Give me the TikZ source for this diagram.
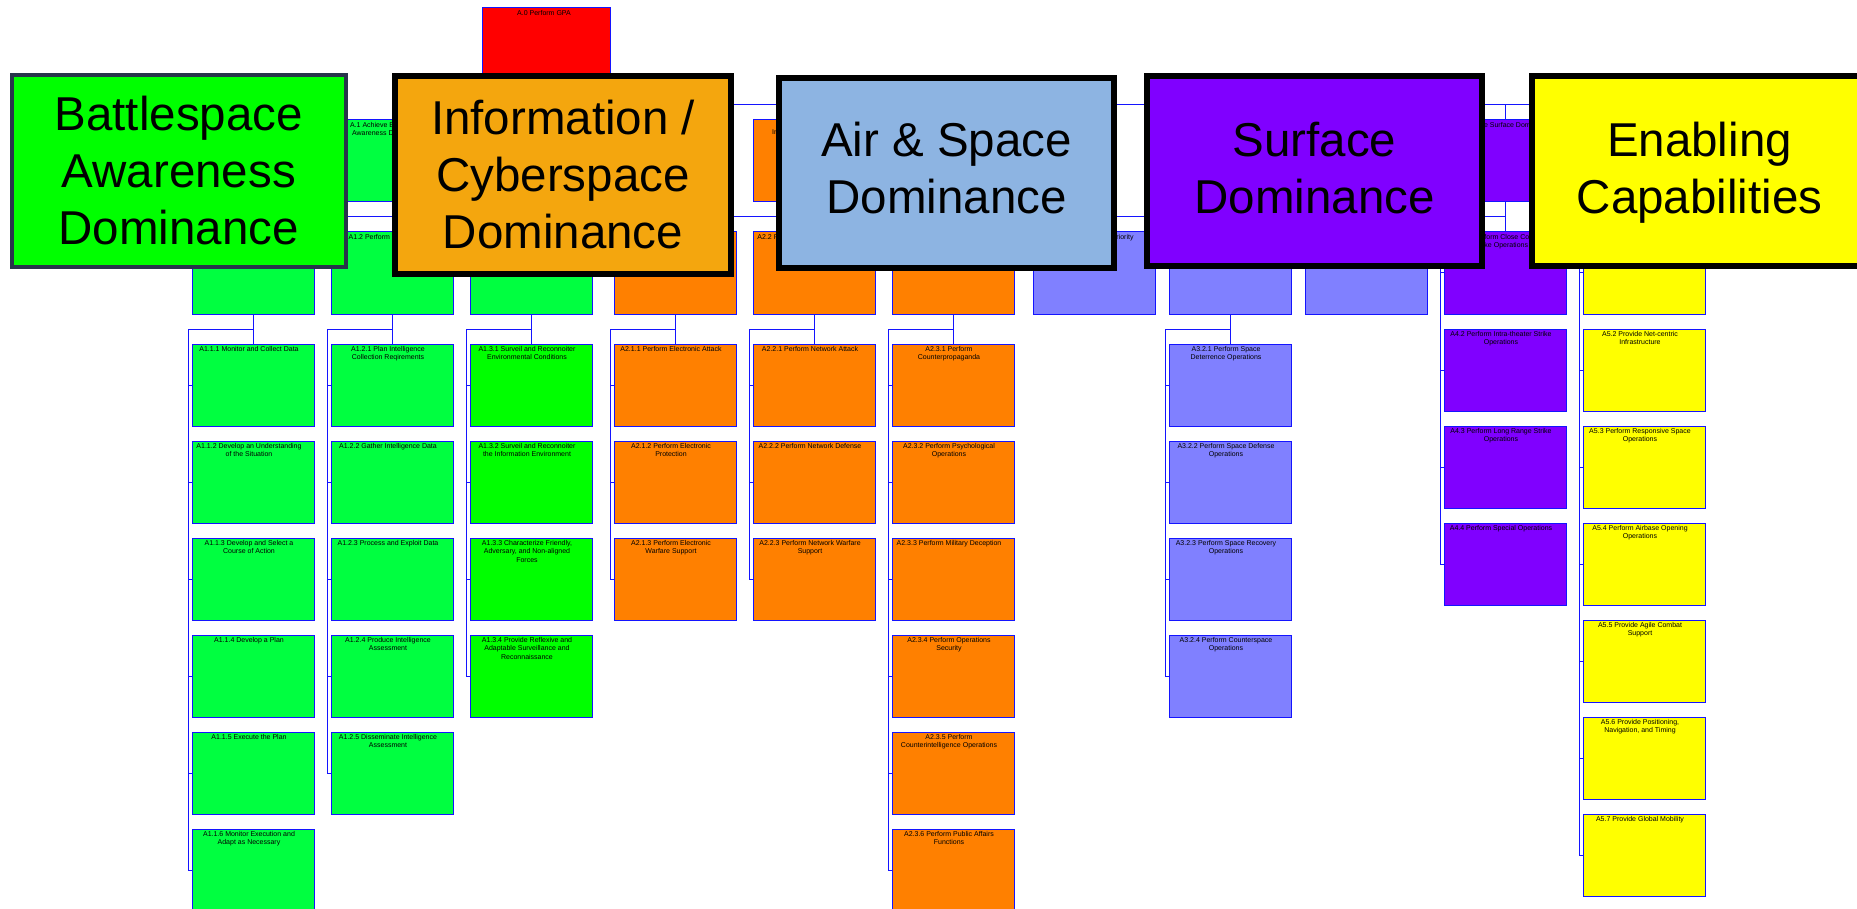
\documentclass[tikz,border=0pt]{standalone}
\usepackage{fontspec}
\setmainfont{Liberation Sans}
\definecolor{lnblue}{RGB}{20,20,255}
\definecolor{cGreen}{RGB}{0,255,64}
\definecolor{cGreenB}{RGB}{0,255,0}
\definecolor{cOrange}{RGB}{255,128,0}
\definecolor{cLav}{RGB}{128,128,255}
\definecolor{cPurple}{RGB}{128,0,255}
\definecolor{cYellow}{RGB}{255,255,0}
\definecolor{cRed}{RGB}{255,0,0}
\definecolor{bGreen}{RGB}{0,255,0}
\definecolor{bGreenEdge}{RGB}{40,52,75}
\definecolor{bOrange}{RGB}{244,166,14}
\definecolor{bBlue}{RGB}{141,180,226}
\tikzset{
  fbox/.style={draw=lnblue, line width=1pt, minimum width=122pt, minimum height=82pt, inner sep=0pt, outer sep=0pt, anchor=north west},
  ftxt/.style={anchor=north, inner sep=0pt, align=center, font=\fontsize{7}{8.5}\selectfont},
  conn/.style={draw=lnblue, line width=1pt},
  bigbox/.style={draw=black, line width=6pt, inner sep=0pt, minimum width=335pt, minimum height=190pt},
  bigtxt/.style={align=center, font=\fontsize{47.5}{57}\selectfont, text depth=0pt, inner sep=0pt},
}
\newcommand{\mkbox}[5]{\node[fbox, fill=#4] (#1) at (#2,#3) {};
  \node[ftxt] (#1t) at ([xshift=-4pt,yshift=-2pt]#1.north) {#5};}
\newcommand{\mkboxe}[4]{\node[fbox, fill=#4] (#1) at (#2,#3) {};}
\newcommand{\stubs}[1]{\foreach \c in {#1} \draw[conn] ([xshift=-3.5pt]\c.west) -- (\c.west);}
\begin{document}
\begin{tikzpicture}[x=1pt, y=-1pt]
\useasboundingbox (0,0) rectangle (1857,909);
\fill[white] (0,0) rectangle (1857,909);
\clip (0,0) rectangle (1857,909);

% level 0 and 1
\node[fbox, fill=cRed, minimum width=128pt] (A0) at (482,8) {};
\node[ftxt] (A0t) at ([xshift=-2pt,yshift=-2pt]A0.north) {A.0 Perform GPA};
\mkbox{A1}{331}{120}{cGreen}{A.1 Achieve Battlespace\\Awareness Dominance}
\node[fbox, fill=cOrange] (A2) at (753,120) {};
\node[anchor=west, inner sep=0pt, font=\fontsize{7}{8.5}\selectfont] (A2t) at ([xshift=19pt,yshift=-12.5pt]A2.north west) {Information};
\mkboxe{A3}{1169}{120}{cLav}
\mkbox{A4}{1444}{120}{cPurple}{A.4 Achieve Surface Dominance}
\mkboxe{A5}{1583}{120}{cYellow}

% level 2
\mkboxe{A11}{192}{232}{cGreen}
\mkbox{A12}{331}{232}{cGreen}{A1.2 Perform Intelligence}
\mkboxe{A13}{470}{232}{cGreen}
\mkboxe{A21}{614}{232}{cOrange}
\mkbox{A22}{753}{232}{cOrange}{A2.2 Perform Network Operations}
\mkboxe{A23}{892}{232}{cOrange}
\mkbox{A31}{1033}{232}{cLav}{A3.1 Achieve Air Superiority}
\mkboxe{A32}{1169}{232}{cLav}
\mkboxe{A33}{1305}{232}{cLav}

% A4 stack
\mkbox{A41}{1444}{232}{cPurple}{A4.1 Perform Close Combat\\Strike Operations}
\mkbox{A42}{1444}{329}{cPurple}{A4.2 Perform Intra-theater Strike\\Operations}
\mkbox{A43}{1444}{426}{cPurple}{A4.3 Perform Long Range Strike\\Operations}
\mkbox{A44}{1444}{523}{cPurple}{A4.4 Perform Special Operations}
% A5 stack
\mkboxe{A51}{1583}{232}{cYellow}
\mkbox{A52}{1583}{329}{cYellow}{A5.2 Provide Net-centric\\Infrastructure}
\mkbox{A53}{1583}{426}{cYellow}{A5.3 Perform Responsive Space\\Operations}
\mkbox{A54}{1583}{523}{cYellow}{A5.4 Perform Airbase Opening\\Operations}
\mkbox{A55}{1583}{620}{cYellow}{A5.5 Provide Agile Combat\\Support}
\mkbox{A56}{1583}{717}{cYellow}{A5.6 Provide Positioning,\\Navigation, and Timing}
\mkbox{A57}{1583}{814}{cYellow}{A5.7 Provide Global Mobility}

% level 3 col 1
\mkbox{A111}{192}{344}{cGreen}{A1.1.1 Monitor and Collect Data}
\mkbox{A112}{192}{441}{cGreen}{A1.1.2 Develop an Understanding\\of the Situation}
\mkbox{A113}{192}{538}{cGreen}{A1.1.3 Develop and Select a\\Course of Action}
\mkbox{A114}{192}{635}{cGreen}{A1.1.4 Develop a Plan}
\mkbox{A115}{192}{732}{cGreen}{A1.1.5 Execute the Plan}
\mkbox{A116}{192}{829}{cGreen}{A1.1.6 Monitor Execution and\\Adapt as Necessary}
% col 2
\mkbox{A121}{331}{344}{cGreen}{A1.2.1 Plan Intelligence\\Collection Reqirements}
\mkbox{A122}{331}{441}{cGreen}{A1.2.2 Gather Intelligence Data}
\mkbox{A123}{331}{538}{cGreen}{A1.2.3 Process and Exploit Data}
\mkbox{A124}{331}{635}{cGreen}{A1.2.4 Produce Intelligence\\Assessment}
\mkbox{A125}{331}{732}{cGreen}{A1.2.5 Disseminate Intelligence\\Assessment}
% col 3
\mkbox{A131}{470}{344}{cGreenB}{A1.3.1 Surveil and Reconnoiter\\Environmental Conditions}
\mkbox{A132}{470}{441}{cGreenB}{A1.3.2 Surveil and Reconnoiter\\the Information Environment}
\mkbox{A133}{470}{538}{cGreenB}{A1.3.3 Characterize Friendly,\\Adversary, and Non-aligned\\Forces}
\mkbox{A134}{470}{635}{cGreenB}{A1.3.4 Provide Reflexive and\\Adaptable Surveillance and\\Reconnaissance}
% col 4
\mkbox{A211}{614}{344}{cOrange}{A2.1.1 Perform Electronic Attack}
\mkbox{A212}{614}{441}{cOrange}{A2.1.2 Perform Electronic\\Protection}
\mkbox{A213}{614}{538}{cOrange}{A2.1.3 Perform Electronic\\Warfare Support}
% col 5
\mkbox{A221}{753}{344}{cOrange}{A2.2.1 Perform Network Attack}
\mkbox{A222}{753}{441}{cOrange}{A2.2.2 Perform Network Defense}
\mkbox{A223}{753}{538}{cOrange}{A2.2.3 Perform Network Warfare\\Support}
% col 6
\mkbox{A231}{892}{344}{cOrange}{A2.3.1 Perform\\Counterpropaganda}
\mkbox{A232}{892}{441}{cOrange}{A2.3.2 Perform Psychological\\Operations}
\mkbox{A233}{892}{538}{cOrange}{A2.3.3 Perform Military Deception}
\mkbox{A234}{892}{635}{cOrange}{A2.3.4 Perform Operations\\Security}
\mkbox{A235}{892}{732}{cOrange}{A2.3.5 Perform\\Counterintelligence Operations}
\mkbox{A236}{892}{829}{cOrange}{A2.3.6 Perform Public Affairs\\Functions}
% col 8
\mkbox{A321}{1169}{344}{cLav}{A3.2.1 Perform Space\\Deterrence Operations}
\mkbox{A322}{1169}{441}{cLav}{A3.2.2 Perform Space Defense\\Operations}
\mkbox{A323}{1169}{538}{cLav}{A3.2.3 Perform Space Recovery\\Operations}
\mkbox{A324}{1169}{635}{cLav}{A3.2.4 Perform Counterspace\\Operations}

% connectors level 0 -> 1
\draw[conn] (A0.south) -- ([yshift=-15pt]A0.south);
\draw[conn] (A1.north) -- ([yshift=15pt]A1.north) -- ([yshift=15pt]A5.north) -- (A5.north);
\foreach \n in {A2,A3,A4} \draw[conn] (\n.north) -- ([yshift=15pt]\n.north);
% level 1 -> 2
\draw[conn] (A1.south) -- (A12.north);
\draw[conn] (A11.north) -- ([yshift=15pt]A11.north) -- ([yshift=15pt]A13.north) -- (A13.north);
\draw[conn] (A2.south) -- (A22.north);
\draw[conn] (A21.north) -- ([yshift=15pt]A21.north) -- ([yshift=15pt]A23.north) -- (A23.north);
\draw[conn] (A3.south) -- (A32.north);
\draw[conn] (A31.north) -- ([yshift=15pt]A31.north) -- ([yshift=15pt]A33.north) -- (A33.north);
\draw[conn] (A4.south) -- (A41.north);
\draw[conn] ([yshift=-15pt]A4.south) -| ([xshift=-3.5pt]A44.west) -- (A44.west);
\stubs{A41,A42,A43}
\draw[conn] (A5.south) -- (A51.north);
\draw[conn] ([yshift=-15pt]A5.south) -| ([xshift=-3.5pt]A57.west) -- (A57.west);
\stubs{A51,A52,A53,A54,A55,A56}
% level 2 -> 3
\draw[conn] (A11.south) -- (A111.north);
\draw[conn] ([yshift=-15pt]A11.south) -| ([xshift=-3.5pt]A116.west) -- (A116.west);
\stubs{A111,A112,A113,A114,A115}
\draw[conn] (A12.south) -- (A121.north);
\draw[conn] ([yshift=-15pt]A12.south) -| ([xshift=-3.5pt]A125.west) -- (A125.west);
\stubs{A121,A122,A123,A124}
\draw[conn] (A13.south) -- (A131.north);
\draw[conn] ([yshift=-15pt]A13.south) -| ([xshift=-3.5pt]A134.west) -- (A134.west);
\stubs{A131,A132,A133}
\draw[conn] (A21.south) -- (A211.north);
\draw[conn] ([yshift=-15pt]A21.south) -| ([xshift=-3.5pt]A213.west) -- (A213.west);
\stubs{A211,A212}
\draw[conn] (A22.south) -- (A221.north);
\draw[conn] ([yshift=-15pt]A22.south) -| ([xshift=-3.5pt]A223.west) -- (A223.west);
\stubs{A221,A222}
\draw[conn] (A23.south) -- (A231.north);
\draw[conn] ([yshift=-15pt]A23.south) -| ([xshift=-3.5pt]A236.west) -- (A236.west);
\stubs{A231,A232,A233,A234,A235}
\draw[conn] (A32.south) -- (A321.north);
\draw[conn] ([yshift=-15pt]A32.south) -| ([xshift=-3.5pt]A324.west) -- (A324.west);
\stubs{A321,A322,A323}

% big overlay boxes
\node[bigbox, draw=bGreenEdge, line width=4pt, fill=bGreen, minimum width=334.5pt, minimum height=192pt] (BG) at (178.75,171) {};
\node[bigtxt] (BGt) at (178.75,170) {Battlespace\\Awareness\\Dominance};
\node[bigbox, fill=bOrange, minimum width=336pt, minimum height=198pt] (BO) at (563,175) {};
\node[bigtxt] (BOt) at (563,174) {Information /\\Cyberspace\\Dominance};
\node[bigbox, fill=bBlue] (BB) at (946.5,173) {};
\node[bigtxt] (BBt) at (946.5,167.5) {Air \& Space\\Dominance};
\node[bigbox, fill=cPurple] (BP) at (1314.5,171) {};
\node[bigtxt] (BPt) at (1314.5,167.5) {Surface\\Dominance};
\node[bigbox, fill=cYellow] (BY) at (1699.5,171) {};
\node[bigtxt] (BYt) at (1699.5,167.5) {Enabling\\Capabilities};
\end{tikzpicture}
\end{document}
